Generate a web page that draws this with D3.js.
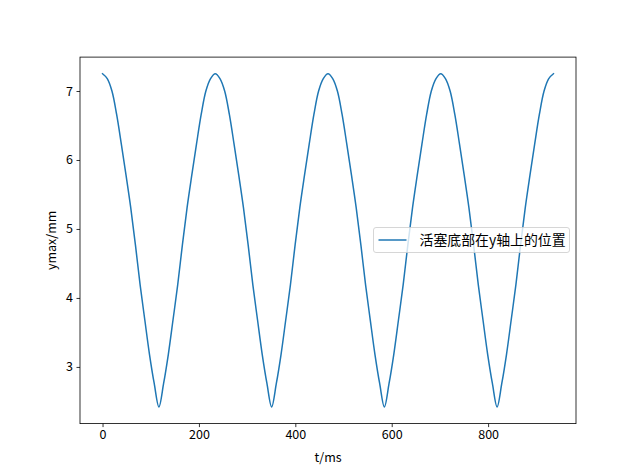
<!DOCTYPE html>
<html>
<head>
<meta charset="utf-8">
<script src="https://d3js.org/d3.v7.min.js"></script>
<style>
  body { margin: 0; background: #fff; }
  text { font-family: "Noto Sans CJK SC", "DejaVu Sans", sans-serif; fill: #000; }
</style>
</head>
<body>
<svg width="640" height="476"></svg>
<script>

// sample step (ms) of the recorded curve
var dt = 9.746;

// piston bottom position, one value per sample (4 strokes)
var ymax = [
  7.25, 7.18, 7.00, 6.66, 6.23, 5.78, 5.31, 4.77, 4.19, 3.68, 3.18, 2.76, 2.42,
  2.76, 3.18, 3.68, 4.19, 4.77, 5.31, 5.78, 6.23, 6.66, 7.00, 7.18,
  7.25, 7.18, 7.00, 6.66, 6.23, 5.78, 5.31, 4.77, 4.19, 3.68, 3.18, 2.76, 2.42,
  2.76, 3.18, 3.68, 4.19, 4.77, 5.31, 5.78, 6.23, 6.66, 7.00, 7.18,
  7.25, 7.18, 7.00, 6.66, 6.23, 5.78, 5.31, 4.77, 4.19, 3.68, 3.18, 2.76, 2.42,
  2.76, 3.18, 3.68, 4.19, 4.77, 5.31, 5.78, 6.23, 6.66, 7.00, 7.18,
  7.25, 7.18, 7.00, 6.66, 6.23, 5.78, 5.31, 4.77, 4.19, 3.68, 3.18, 2.76, 2.42,
  2.76, 3.18, 3.68, 4.19, 4.77, 5.31, 5.78, 6.23, 6.66, 7.00, 7.18,
  7.25
];

var xTicks = [0, 200, 400, 600, 800];
var yTicks = [3, 4, 5, 6, 7];
var seriesName = "活塞底部在y轴上的位置";

var data = ymax.map(function (v, i) { return { t: i * dt, y: v }; });

var svg = d3.select("svg");

// axes box (matplotlib default subplot params)
var axL = 80, axR = 576, axT = 57.1, axB = 423.6;

// 5% margins like matplotlib
var tExt = d3.extent(data, function (d) { return d.t; });
var yExt = d3.extent(data, function (d) { return d.y; });
var tPad = (tExt[1] - tExt[0]) * 0.05;
var yPad = (yExt[1] - yExt[0]) * 0.05;

var x = d3.scaleLinear()
    .domain([tExt[0] - tPad, tExt[1] + tPad])
    .range([axL, axR]);
var y = d3.scaleLinear()
    .domain([yExt[0] - yPad, yExt[1] + yPad])
    .range([axB, axT]);

// the curve
var line = d3.line()
    .curve(d3.curveCatmullRom.alpha(0.5))
    .x(function (d) { return x(d.t); })
    .y(function (d) { return y(d.y); });

svg.append("path")
    .datum(data)
    .attr("d", line)
    .attr("fill", "none")
    .attr("stroke", "#1f77b4")
    .attr("stroke-width", 1.5)
    .attr("stroke-linejoin", "round")
    .attr("stroke-linecap", "square");

// axes
var xAxis = d3.axisBottom(x).tickValues(xTicks).tickSize(3.5).tickPadding(3.5);
var yAxis = d3.axisLeft(y).tickValues(yTicks).tickFormat(d3.format("d"))
    .tickSize(3.5).tickPadding(3.5);

var gx = svg.append("g").attr("transform", "translate(0," + axB + ")").call(xAxis);
var gy = svg.append("g").attr("transform", "translate(" + axL + ",0)").call(yAxis);

[gx, gy].forEach(function (g) {
  g.select(".domain").remove();
  g.selectAll(".tick line").attr("stroke", "#000").attr("stroke-width", 0.8);
  g.selectAll(".tick text")
      .style("font-family", "'Noto Sans CJK SC', sans-serif")
      .style("font-size", "12.5px")
      .attr("fill", "#000");
});

// spines
svg.append("rect")
    .attr("x", axL)
    .attr("y", axT)
    .attr("width", axR - axL)
    .attr("height", axB - axT)
    .attr("fill", "none")
    .attr("stroke", "#000")
    .attr("stroke-width", 0.8);

// axis labels
svg.append("text")
    .attr("x", (axL + axR) / 2)
    .attr("y", 462)
    .attr("text-anchor", "middle")
    .style("font-size", "12.5px")
    .text("t/ms");

svg.append("text")
    .attr("transform", "translate(56," + (axT + axB) / 2 + ") rotate(-90)")
    .attr("text-anchor", "middle")
    .style("font-size", "12.5px")
    .text("ymax/mm");

// legend
var legend = svg.append("g").attr("transform", "translate(373.5,227.5)");
legend.append("rect")
    .attr("width", 196)
    .attr("height", 25)
    .attr("rx", 2.5)
    .attr("fill", "#fff")
    .attr("fill-opacity", 0.8)
    .attr("stroke", "#cccccc")
    .attr("stroke-width", 0.8);
legend.append("line")
    .attr("x1", 5).attr("x2", 33)
    .attr("y1", 12.5).attr("y2", 12.5)
    .attr("stroke", "#1f77b4")
    .attr("stroke-width", 1.5);
legend.append("text")
    .attr("x", 46)
    .attr("y", 17.5)
    .style("font-size", "13.9px")
    .text(seriesName);
</script>
</body>
</html>
